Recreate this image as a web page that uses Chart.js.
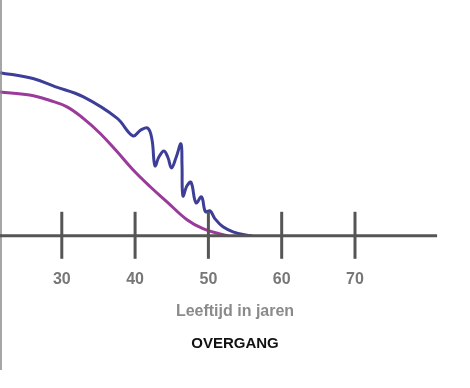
<!DOCTYPE html>
<html>
<head>
<meta charset="utf-8">
<script src="https://cdn.jsdelivr.net/npm/chart.js@4"></script>
<style>
  html, body { margin: 0; padding: 0; background: #fff; }
  #wrap { width: 470px; height: 388px; }
</style>
</head>
<body>
<div id="wrap"><canvas id="overgangChart"></canvas></div>
<script>
// leeftijd (jaren) en relatief niveau
const blueAge = [21.57, 26.07, 29.07, 32.89, 37.53, 39.71, 40.8, 41.76, 42.31, 42.71, 43.26, 43.94, 44.49, 44.97, 45.58, 46.26, 46.4, 46.53, 47.08, 47.63, 48.31, 49.06, 49.6, 50.22, 50.9, 51.99, 53.36, 55.27, 55.95];
const blueLevel = [69.2, 66.7, 63.3, 59.0, 49.9, 42.4, 44.9, 45.6, 40.7, 29.7, 33.5, 36.0, 33.1, 28.8, 33.1, 39.0, 30.1, 16.9, 21.2, 22.7, 14.0, 16.5, 10.2, 10.6, 7.2, 3.8, 1.7, 0.2, 0];
const purpleAge = [21.57, 25.61, 28.39, 30.71, 32.89, 35.21, 37.53, 39.71, 42.03, 44.35, 47.08, 49.26, 51.58, 52.67];
const purpleLevel = [61.0, 59.7, 57.4, 54.7, 49.9, 43.5, 35.7, 28.0, 20.9, 14.4, 6.8, 3.0, 0.8, 0];
const tickYears = [30, 40, 50, 60, 70];

const toPoints = (xs, ys) => xs.map((x, i) => ({ x: x, y: ys[i] }));

// as, tickstreepjes en linker lijn
const axisDeco = {
    id: 'axisDeco',
    afterDatasetsDraw(chart) {
        const c = chart.ctx;
        const xs = chart.scales.x;
        const ys = chart.scales.y;
        const y0 = ys.getPixelForValue(0);
        c.save();
        c.strokeStyle = '#888';
        c.lineWidth = 1.5;
        c.beginPath();
        c.moveTo(chart.chartArea.left + 1, 0);
        c.lineTo(chart.chartArea.left + 1, 370);
        c.stroke();

        c.strokeStyle = '#555';
        c.lineWidth = 3;
        c.beginPath();
        c.moveTo(chart.chartArea.left, y0);
        c.lineTo(xs.getPixelForValue(81.2), y0);
        c.stroke();
        tickYears.forEach(v => {
            const px = xs.getPixelForValue(v);
            c.beginPath();
            c.moveTo(px, y0 - 24);
            c.lineTo(px, y0 + 23);
            c.stroke();
        });
        c.restore();
    }
};

new Chart(document.getElementById('overgangChart').getContext('2d'), {
    type: 'line',
    data: {
        datasets: [{
            data: toPoints(purpleAge, purpleLevel),
            borderColor: '#9a3a9a',
            borderWidth: 3,
            pointRadius: 0,
            tension: 0.4
        }, {
            data: toPoints(blueAge, blueLevel),
            borderColor: '#3c3e97',
            borderWidth: 3,
            pointRadius: 0,
            tension: 0.4
        }]
    },
    options: {
        responsive: true,
        maintainAspectRatio: false,
        animation: false,
        layout: { padding: { top: 0, left: 0, right: 0, bottom: 35 } },
        scales: {
            x: {
                type: 'linear',
                min: 21.57,
                max: 85.69,
                afterBuildTicks: axis => { axis.ticks = tickYears.map(v => ({ value: v })); },
                afterFit: axis => { axis.height = 52; },
                grid: { display: false, drawTicks: false },
                border: { display: false },
                ticks: {
                    padding: 34,
                    color: '#777',
                    font: { family: 'Liberation Sans', size: 16, weight: 'bold' }
                }
            },
            y: {
                display: false,
                min: 0,
                max: 100
            }
        },
        plugins: {
            legend: { display: false },
            tooltip: { enabled: false },
            subtitle: {
                display: true,
                position: 'bottom',
                text: 'Leeftijd in jaren',
                color: '#8a8a8a',
                font: { family: 'Liberation Sans', size: 16, weight: 'bold' },
                padding: { top: 14, bottom: 0 }
            },
            title: {
                display: true,
                position: 'bottom',
                text: 'OVERGANG',
                color: '#111',
                font: { family: 'Liberation Sans', size: 15, weight: 'bold' },
                padding: { top: 14, bottom: 0 }
            }
        }
    },
    plugins: [axisDeco]
});
</script>
</body>
</html>
